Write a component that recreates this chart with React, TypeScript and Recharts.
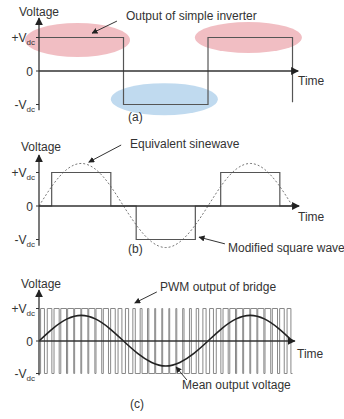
import React from "react";
import {
    ComposedChart,
    Line,
    XAxis,
    YAxis,
    ReferenceLine,
    ReferenceDot,
} from "recharts";

// angle in degrees along the time axis
const squareX = [0, 180, 360, 540];
const squareV = [1, -1, 1, -0.93];

const modX = [0, 27, 153, 207, 333, 387, 513, 540];
const modV = [0, 1, 0, -1, 0, 1, 0, 0];

const sineX = [0, 30, 60, 90, 120, 150, 180, 210, 240, 270, 300, 330, 360, 390, 420, 450, 480, 510, 540];
const sineB = [0, 0.64, 1.1, 1.27, 1.1, 0.64, 0, -0.62, -1.07, -1.24, -1.07, -0.62, 0, 0.64, 1.1, 1.27, 1.1, 0.64, 0];
const sineC = [0, 0.39, 0.68, 0.79, 0.68, 0.39, 0, -0.38, -0.66, -0.77, -0.66, -0.38, 0, 0.39, 0.68, 0.79, 0.68, 0.39, 0];

const pwmRise = [3.4, 17.6, 32, 46.4, 61, 75.9, 90.9, 106, 121.4, 137, 152.6, 168.4, 184.1, 199.9, 215.5, 231.1, 246.5, 261.6, 276.6, 291.5, 306.1, 320.5, 334.9, 349.1, 363.4, 377.6, 392, 406.4, 421, 435.9, 450.9, 466, 481.4, 497, 512.6, 528.4];
const pwmFall = [11.6, 27.4, 43, 58.6, 74, 89.1, 104.1, 119, 133.6, 148, 162.4, 176.6, 190.9, 205.1, 219.5, 233.9, 248.5, 263.4, 278.4, 293.5, 308.9, 324.5, 340.1, 355.9, 371.6, 387.4, 403, 418.6, 434, 449.1, 464.1, 479, 493.6, 508, 522.4, 536.6];

const vTicks = [-1, 0, 1];

const squareData = squareX.map((x, i) => ({ x, v: squareV[i] }));
const modData = modX.map((x, i) => ({ x, v: modV[i] }));
const sineBData = sineX.map((x, i) => ({ x, v: sineB[i] }));
const sineCData = sineX.map((x, i) => ({ x, v: sineC[i] }));
const pwmData = [{ x: 0, v: -1 }];
pwmRise.forEach((r, i) => {
    pwmData.push({ x: r, v: 1 });
    pwmData.push({ x: pwmFall[i], v: -1 });
});
pwmData.push({ x: 540, v: -1 });

const font = "'Liberation Sans', Arial, sans-serif";
const ink = "#333";

const VTick = (props: any) => {
    const { x, y, payload } = props;
    const v = payload.value;
    if (v === 0) {
        return (
            <text x={x - 1} y={y} dy={4.5} textAnchor="end" fontSize={12} fontFamily={font} fill={ink}>
                0
            </text>
        );
    }
    return (
        <text x={x + 1} y={y} dy={4.5} textAnchor="end" fontSize={12} fontFamily={font} fill={ink}>
            <tspan>{v > 0 ? "+V" : "-V"}</tspan>
            <tspan fontSize={8} dy={2.5}>dc</tspan>
        </text>
    );
};

const arrowShape = (p: any) => (
    <line x1={p.x1} y1={p.y1} x2={p.x2} y2={p.y2} stroke={p.stroke} strokeWidth={p.strokeWidth} markerEnd="url(#arrowHead)" />
);

const ellipse = (rx: number, ry: number, fill: string) => (p: any) => (
    <ellipse cx={p.cx} cy={p.cy} rx={rx} ry={ry} fill={fill} fillOpacity={0.85} />
);

function Axes({ top, bottom, tip }: { top: number; bottom: number; tip: number }) {
    return (
        <>
            <ReferenceLine segment={[{ x: 0, y: bottom }, { x: 0, y: top }]} stroke={ink} strokeWidth={1.3} shape={arrowShape} ifOverflow="visible" />
            <ReferenceLine segment={[{ x: 0, y: 0 }, { x: tip, y: 0 }]} stroke={ink} strokeWidth={1.3} shape={arrowShape} ifOverflow="visible" />
        </>
    );
}

const txt = { fontSize: 12, fontFamily: font, fill: ink };

function Frame({ children }: { children: React.ReactNode }) {
    return <>{children}</>;
}

export default function App() {
    return (
        <div style={{ position: "absolute", left: 0, top: 0, width: 344, height: 419, background: "#fff" }}>
            <svg width={0} height={0} style={{ position: "absolute" }}>
                <defs>
                    <marker id="arrowHead" viewBox="0 0 10 10" refX="9" refY="5" markerWidth="6" markerHeight="6" orient="auto-start-reverse">
                        <path d="M0,0 L10,5 L0,10 z" fill="#222" />
                    </marker>
                </defs>
            </svg>

            {/* (a) */}
            <ComposedChart width={344} height={136} margin={{ top: 17.4, right: 42.1, bottom: 21.45, left: 0 }}>
                <XAxis type="number" dataKey="x" domain={[0, 560]} hide allowDataOverflow />
                <YAxis type="number" domain={[-1.3, 1.6]} ticks={vTicks} width={39} axisLine={false} tickSize={3} tickLine={{ stroke: ink }} tick={<VTick />} allowDataOverflow />
                <ReferenceDot x={82} y={0.925} r={0} zIndex={-10} shape={ellipse(52.5, 17, "#efb3b8")} ifOverflow="visible" />
                <ReferenceDot x={446} y={1.0} r={0} zIndex={-10} shape={ellipse(53.5, 15.5, "#efb3b8")} ifOverflow="visible" />
                <ReferenceDot x={267} y={-0.84} r={0} zIndex={-10} shape={ellipse(53.5, 16, "#b5d3ec")} ifOverflow="visible" />
                <Line data={squareData} dataKey="v" type="stepAfter" stroke="#555" strokeWidth={1.2} dot={false} isAnimationActive={false} />
                <Axes top={1.58} bottom={-1.17} tip={552} />
                <ReferenceLine segment={[{ x: 166, y: 1.49 }, { x: 113, y: 1.13 }]} stroke={ink} strokeWidth={1} shape={arrowShape} ifOverflow="visible" />
                <Frame>
                    <text x={19} y={16} {...txt}>Voltage</text>
                    <text x={126} y={20} {...txt}>Output of simple inverter</text>
                    <text x={298} y={85} {...txt}>Time</text>
                    <text x={128} y={121} {...txt}>(a)</text>
                </Frame>
            </ComposedChart>

            {/* (b) */}
            <ComposedChart width={344} height={134} margin={{ top: 16.4, right: 42.1, bottom: 20.45, left: 0 }}>
                <XAxis type="number" dataKey="x" domain={[0, 560]} hide allowDataOverflow />
                <YAxis type="number" domain={[-1.3, 1.6]} ticks={vTicks} width={39} axisLine={false} tickSize={3} tickLine={{ stroke: ink }} tick={<VTick />} allowDataOverflow />
                <Line data={sineBData} dataKey="v" type="natural" stroke="#777" strokeWidth={1} strokeDasharray="2 2" dot={false} isAnimationActive={false} />
                <Line data={modData} dataKey="v" type="stepAfter" stroke="#555" strokeWidth={1.2} dot={false} isAnimationActive={false} />
                <Axes top={1.52} bottom={-1.19} tip={554} />
                <ReferenceLine segment={[{ x: 175, y: 1.82 }, { x: 106, y: 1.31 }]} stroke={ink} strokeWidth={1} shape={arrowShape} ifOverflow="visible" />
                <ReferenceLine segment={[{ x: 396, y: -1.13 }, { x: 341, y: -0.93 }]} stroke={ink} strokeWidth={1} shape={arrowShape} ifOverflow="visible" />
                <Frame>
                    <text x={21} y={15} {...txt}>Voltage</text>
                    <text x={130} y={11.5} {...txt}>Equivalent sinewave</text>
                    <text x={298} y={85} {...txt}>Time</text>
                    <text x={128} y={117} {...txt}>(b)</text>
                    <text x={228} y={116} {...txt}>Modified square wave</text>
                </Frame>
            </ComposedChart>

            {/* (c) */}
            <ComposedChart width={344} height={149} margin={{ top: 19, right: 42.1, bottom: 35.75, left: 0 }}>
                <XAxis type="number" dataKey="x" domain={[0, 560]} hide allowDataOverflow />
                <YAxis type="number" domain={[-1.3, 1.6]} ticks={vTicks} width={39} axisLine={false} tickSize={3} tickLine={{ stroke: ink }} tick={<VTick />} allowDataOverflow />
                <Line data={pwmData} dataKey="v" type="stepAfter" stroke="#888" strokeWidth={1} dot={false} isAnimationActive={false} />
                <Line data={sineCData} dataKey="v" type="natural" stroke="#222" strokeWidth={1.6} dot={false} isAnimationActive={false} />
                <Axes top={1.57} bottom={-1.05} tip={545} />
                <ReferenceLine segment={[{ x: 251, y: 1.51 }, { x: 204, y: 1.17 }]} stroke={ink} strokeWidth={1} shape={arrowShape} ifOverflow="visible" />
                <ReferenceLine segment={[{ x: 315, y: -1.2 }, { x: 292, y: -0.8 }]} stroke={ink} strokeWidth={1} shape={arrowShape} ifOverflow="visible" />
                <Frame>
                    <text x={21} y={18} {...txt}>Voltage</text>
                    <text x={160} y={21} {...txt}>PWM output of bridge</text>
                    <text x={297} y={88} {...txt}>Time</text>
                    <text x={182} y={119} {...txt}>Mean output voltage</text>
                    <text x={130} y={138} {...txt}>(c)</text>
                </Frame>
            </ComposedChart>
        </div>
    );
}
